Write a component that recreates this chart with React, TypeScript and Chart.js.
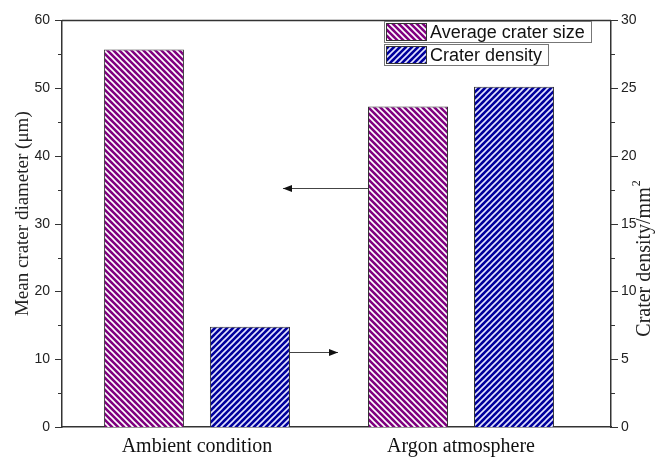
import React, { useEffect, useRef } from "react";
import { Chart, registerables } from "chart.js";

Chart.register(...registerables);

// ---- data ----
const CATEGORIES = ["Ambient condition", "Argon atmosphere"];
const AVG_SIZE = [55.7, 47.3]; // left axis (µm)
const DENSITY = [7.4, 25.1]; // right axis (/mm²)
const SERIES_LABELS = ["Average crater size", "Crater density"];
const LEFT_TICKS = [0, 10, 20, 30, 40, 50, 60];
const RIGHT_TICKS = [0, 5, 10, 15, 20, 25, 30];
const LEFT_ARROW_VALUE = 35.2; // on left axis
const RIGHT_ARROW_VALUE = 5.5; // on right axis

const PURPLE = "#800080";
const BLUE = "#00009c";

function makePattern(bg: string, line: string, dir: "back" | "fwd") {
  const s = 6;
  const c = document.createElement("canvas");
  c.width = s;
  c.height = s;
  const g = c.getContext("2d")!;
  g.fillStyle = bg;
  g.fillRect(0, 0, s, s);
  g.strokeStyle = line;
  g.lineWidth = 1.6;
  g.beginPath();
  if (dir === "back") {
    g.moveTo(-1, -1); g.lineTo(s + 1, s + 1);
    g.moveTo(-1, s - 1); g.lineTo(1, s + 1);
    g.moveTo(s - 1, -1); g.lineTo(s + 1, 1);
  } else {
    g.moveTo(-1, s + 1); g.lineTo(s + 1, -1);
    g.moveTo(-1, 1); g.lineTo(1, -1);
    g.moveTo(s - 1, s + 1); g.lineTo(s + 1, s - 1);
  }
  g.stroke();
  return g.createPattern(c, "repeat")!;
}

export default function App() {
  const ref = useRef<HTMLCanvasElement>(null);

  useEffect(() => {
    const canvas = ref.current!;
    const ctx = canvas.getContext("2d")!;
    const purplePat = makePattern(PURPLE, "#ffffff", "back");
    const bluePat = makePattern(BLUE, "#e4e4ff", "fwd");
    const patterns = [purplePat, bluePat];

    const decor = {
      id: "decor",
      afterDraw(chart: any) {
        const c = chart.ctx;
        const { left, right, top, bottom } = chart.chartArea;
        const y = chart.scales.y;
        const y1 = chart.scales.y1;
        c.save();
        // top frame line
        c.strokeStyle = "#333";
        c.lineWidth = 1.5;
        c.beginPath();
        c.moveTo(left, top);
        c.lineTo(right, top);
        c.stroke();
        // tick marks
        c.lineWidth = 1.2;
        c.beginPath();
        for (let v = 0; v <= 60; v += 5) {
          const py = Math.round(y.getPixelForValue(v)) + 0.5;
          const len = v % 10 === 0 ? 7 : 4;
          c.moveTo(left, py);
          c.lineTo(left - len, py);
        }
        for (let v = 0; v <= 30; v += 2.5) {
          const py = Math.round(y1.getPixelForValue(v)) + 0.5;
          const len = v % 5 === 0 ? 7 : 4;
          c.moveTo(right, py);
          c.lineTo(right + len, py);
        }
        c.stroke();

        // axis titles
        c.fillStyle = "#222";
        c.font = '19px "Liberation Serif"';
        c.textAlign = "center";
        c.textBaseline = "middle";
        c.save();
        c.translate(23, (top + bottom) / 2 - 10);
        c.rotate(-Math.PI / 2);
        c.fillText("Mean crater diameter (\u03bcm)", 0, 0);
        c.restore();
        c.save();
        c.translate(645, 262);
        c.rotate(-Math.PI / 2);
        c.font = '20px "Liberation Serif"';
        const main = "Crater density/mm";
        const w = c.measureText(main).width;
        c.textAlign = "left";
        c.fillText(main, -w / 2, 0);
        c.font = '12px "Liberation Serif"';
        c.fillText("2", w / 2 + 1, -8);
        c.restore();

        // arrows
        const drawArrow = (x0: number, x1: number, py: number) => {
          c.strokeStyle = "#444";
          c.fillStyle = "#111";
          c.lineWidth = 1;
          c.beginPath();
          c.moveTo(x0, py);
          c.lineTo(x1, py);
          c.stroke();
          const d = x1 > x0 ? 1 : -1;
          c.beginPath();
          c.moveTo(x1, py);
          c.lineTo(x1 - d * 9, py - 3.5);
          c.lineTo(x1 - d * 9, py + 3.5);
          c.closePath();
          c.fill();
        };
        const m0 = chart.getDatasetMeta(0).data[1];
        const m1 = chart.getDatasetMeta(1).data[0];
        const ly = Math.round(y.getPixelForValue(LEFT_ARROW_VALUE)) + 0.5;
        drawArrow(m0.x - m0.width / 2, m0.x - m0.width / 2 - 85, ly);
        const ry = Math.round(y1.getPixelForValue(RIGHT_ARROW_VALUE)) + 0.5;
        drawArrow(m1.x + m1.width / 2, m1.x + m1.width / 2 + 48, ry);

        // legend
        const lx = 384;
        const items = [
          { top: 21, w: 207 },
          { top: 44, w: 164 },
        ];
        c.font = '18px "Liberation Sans"';
        c.textAlign = "left";
        c.textBaseline = "middle";
        items.forEach((it, i) => {
          c.strokeStyle = "#777";
          c.lineWidth = 1;
          c.fillStyle = "#fff";
          c.fillRect(lx + 0.5, it.top + 0.5, it.w, 21);
          c.strokeRect(lx + 0.5, it.top + 0.5, it.w, 21);
          c.fillStyle = patterns[i];
          c.fillRect(lx + 2, it.top + 2, 41, 18);
          c.strokeStyle = "#333";
          c.strokeRect(lx + 2.5, it.top + 2.5, 40, 17);
          c.fillStyle = "#111";
          c.fillText(chart.data.datasets[i].label, lx + 46, it.top + 12);
        });
        c.restore();
      },
    };

    const chart = new Chart(ctx, {
      type: "bar",
      data: {
        datasets: [
          {
            label: SERIES_LABELS[0],
            data: CATEGORIES.map((_, i) => ({ x: i, y: AVG_SIZE[i] })),
            backgroundColor: purplePat,
            borderColor: "#333",
            borderWidth: 1,
            yAxisID: "y",
          },
          {
            label: SERIES_LABELS[1],
            data: CATEGORIES.map((_, i) => ({ x: i, y: DENSITY[i] })),
            backgroundColor: bluePat,
            borderColor: "#333",
            borderWidth: 1,
            yAxisID: "y1",
          },
        ] as any,
      },
      options: {
        animation: false,
        responsive: false,
        categoryPercentage: 0.803,
        barPercentage: 0.755,
        layout: { padding: { top: 18, left: 0, right: 0, bottom: 0 } },
        plugins: {
          legend: { display: false },
          tooltip: { enabled: false },
        },
        scales: {
          x: {
            type: "linear",
            offset: false,
            min: -0.511,
            max: 1.568,
            afterBuildTicks: (axis: any) => {
              axis.ticks = CATEGORIES.map((_, i) => ({ value: i }));
            },
            afterFit: (axis: any) => {
              axis.height = 30;
            },
            grid: { display: false, drawTicks: false, offset: false },
            border: { display: true, color: "#333", width: 1.5 },
            ticks: {
              autoSkip: false,
              maxRotation: 0,
              padding: 8,
              color: "#111",
              font: { family: "Liberation Serif", size: 20 },
              callback: (v: any) => CATEGORIES[v] ?? "",
            },
          },
          y: {
            position: "left",
            min: 0,
            max: 60,
            afterBuildTicks: (axis: any) => {
              axis.ticks = LEFT_TICKS.map((v) => ({ value: v }));
            },
            afterFit: (axis: any) => {
              axis.width = 62;
            },
            grid: { display: false, drawTicks: false },
            border: { display: true, color: "#333", width: 1.5 },
            ticks: {
              padding: 12,
              color: "#222",
              font: { family: "Liberation Sans", size: 14 },
            },
          },
          y1: {
            position: "right",
            min: 0,
            max: 30,
            afterBuildTicks: (axis: any) => {
              axis.ticks = RIGHT_TICKS.map((v) => ({ value: v }));
            },
            afterFit: (axis: any) => {
              axis.width = 48;
            },
            grid: { display: false, drawTicks: false },
            border: { display: true, color: "#333", width: 1.5 },
            ticks: {
              padding: 10,
              color: "#222",
              font: { family: "Liberation Sans", size: 14 },
            },
          },
        },
      } as any,
      plugins: [decor],
    });
    return () => chart.destroy();
  }, []);

  return (
    <div style={{ position: "absolute", left: 0, top: 0, width: 659, height: 457, background: "#fff" }}>
      <canvas ref={ref} width={659} height={457} />
    </div>
  );
}
